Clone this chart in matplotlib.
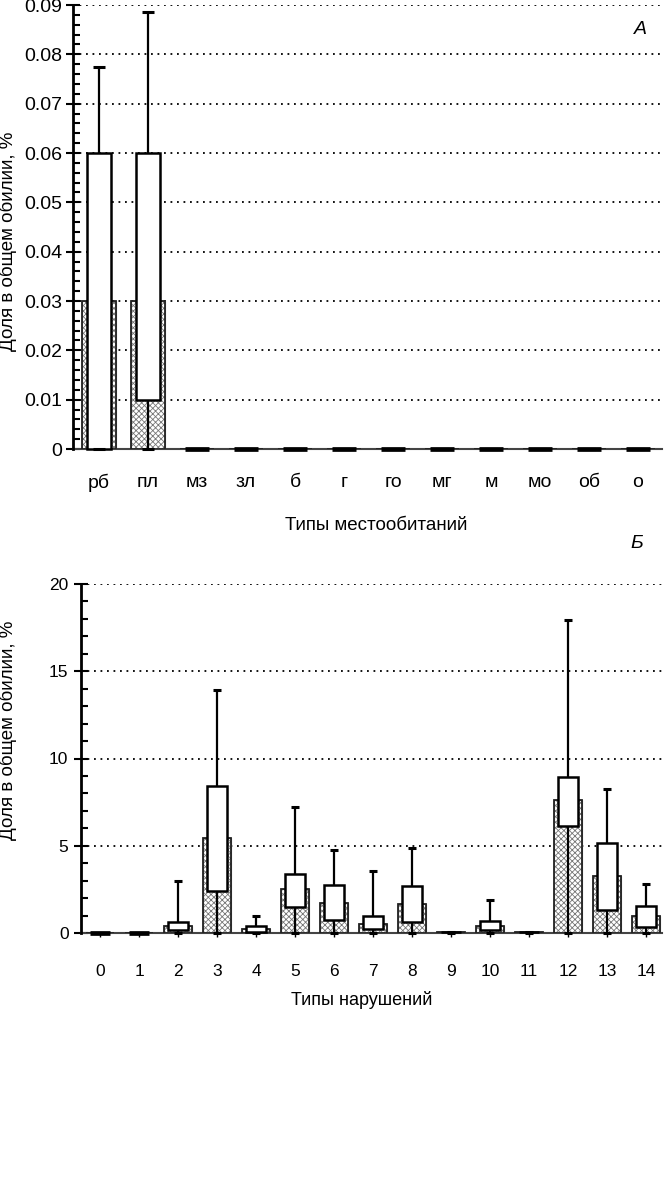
import numpy as np
import matplotlib
matplotlib.use('Agg')
import matplotlib.pyplot as plt
from matplotlib.ticker import MultipleLocator, AutoMinorLocator, FuncFormatter

plt.rcParams['font.family'] = ['Liberation Sans', 'DejaVu Sans']
plt.rcParams['hatch.linewidth'] = 0.6

# panel A: habitat types
habitats = ['рб', 'пл', 'мз', 'зл', 'б', 'г', 'го', 'мг', 'м', 'мо', 'об', 'о']
a_mean = [0.03, 0.03, 0, 0, 0, 0, 0, 0, 0, 0, 0, 0]
a_q1 = [0.0, 0.01, 0, 0, 0, 0, 0, 0, 0, 0, 0, 0]
a_q3 = [0.06, 0.06, 0, 0, 0, 0, 0, 0, 0, 0, 0, 0]
a_max = [0.0775, 0.0885, 0, 0, 0, 0, 0, 0, 0, 0, 0, 0]
a_min = [0, 0, 0, 0, 0, 0, 0, 0, 0, 0, 0, 0]

# panel B: disturbance types
disturb = [str(i) for i in range(15)]
b_mean = [0, 0, 0.40, 5.45, 0.23, 2.50, 1.74, 0.54, 1.64, 0.03, 0.40, 0.03, 7.61, 3.27, 0.98]
b_q1 = [0, 0, 0.15, 2.39, 0.03, 1.49, 0.73, 0.23, 0.63, 0.03, 0.15, 0.03, 6.14, 1.30, 0.34]
b_q3 = [0, 0, 0.63, 8.43, 0.40, 3.40, 2.73, 0.98, 2.68, 0.03, 0.71, 0.03, 8.95, 5.16, 1.55]
b_max = [0, 0, 2.98, 13.92, 0.98, 7.23, 4.74, 3.56, 4.89, 0.03, 1.91, 0.03, 17.93, 8.26, 2.83]
b_min = [0] * 15


def draw_panel(ax, labels, mean, q1, q3, vmax, vmin, wbar, wbox, wcap):
    x = np.arange(len(labels))
    mean, q1, q3 = np.array(mean), np.array(q1), np.array(q3)
    ax.bar(x, mean, width=wbar, color='white', edgecolor='#777777',
           hatch='xxxxxx', linewidth=0.8, zorder=2)
    ax.bar(x, mean, width=wbar, fill=False, edgecolor='#222222',
           linewidth=1.3, zorder=2.5)
    ax.vlines(x, vmin, vmax, color='black', linewidth=1.6, zorder=3)
    # empty categories come out as a heavy flat bar
    lw = np.where(q3 == 0, 3.4, 1.8)
    boxes = ax.bar(x, q3 - q1, bottom=q1, width=wbox, color='white',
                   edgecolor='black', linewidth=lw, zorder=4)
    for b in boxes:
        b.set_clip_on(False)
    ax.hlines(vmax, x - wcap / 2, x + wcap / 2, color='black',
              linewidth=2.2, zorder=5, clip_on=False)
    ax.hlines(vmin, x - wcap / 2, x + wcap / 2, color='black',
              linewidth=2.2, zorder=5, clip_on=False)
    ax.set_xticks(x)
    ax.set_xticklabels(labels)
    ax.set_axisbelow(True)
    ax.yaxis.grid(True, which='major', color='black',
                  linestyle=(0, (1, 2.6)), linewidth=1.3)
    for s in ['top', 'right']:
        ax.spines[s].set_visible(False)
    ax.spines['left'].set_linewidth(2)
    ax.spines['left'].set_zorder(6)
    ax.spines['bottom'].set_color('#444444')
    ax.spines['bottom'].set_linewidth(1.5)
    ax.spines['bottom'].set_zorder(1.5)
    ax.tick_params(axis='y', which='major', direction='inout', length=10,
                   width=1.5)
    ax.tick_params(axis='y', which='minor', direction='in', length=5,
                   width=1.5)
    ax.yaxis.set_minor_locator(AutoMinorLocator(5))


fig = plt.figure(figsize=(6.68, 11.89), dpi=100)

# top panel
ax1 = fig.add_axes([73 / 668, 1 - 449 / 1189, 589 / 668, 444 / 1189])
draw_panel(ax1, habitats, a_mean, a_q1, a_q3, a_max, a_min, 0.69, 0.49, 0.245)
ax1.set_xlim(-0.53, 11.49)
ax1.set_ylim(0, 0.09)
ax1.yaxis.set_major_locator(MultipleLocator(0.01))
ax1.yaxis.set_major_formatter(FuncFormatter(lambda v, p: '{:g}'.format(round(v, 3))))
ax1.tick_params(axis='x', length=0, pad=18, labelsize=14)
ax1.tick_params(axis='y', labelsize=14, pad=3)
for lab in ax1.get_yticklabels():
    lab.set_clip_on(False)

# bottom panel
ax2 = fig.add_axes([81 / 668, 1 - 933 / 1189, 581 / 668, 349 / 1189])
draw_panel(ax2, disturb, b_mean, b_q1, b_q3, b_max, b_min, 0.72, 0.51, 0.2)
ax2.set_xlim(-0.49, 14.41)
ax2.set_ylim(0, 20)
ax2.yaxis.set_major_locator(MultipleLocator(5))
ax2.tick_params(axis='x', direction='out', length=3, width=1, pad=19,
                labelsize=12.5)
ax2.tick_params(axis='y', labelsize=12.5, pad=4)

fig.text(8 / 668, 1 - 241 / 1189, 'Доля в общем обилии, %', rotation=90,
         ha='center', va='center', fontsize=13.5)
fig.text(8 / 668, 1 - 730 / 1189, 'Доля в общем обилии, %', rotation=90,
         ha='center', va='center', fontsize=13.5)
fig.text(376 / 668, 1 - 526 / 1189, 'Типы местообитаний', ha='center',
         va='center', fontsize=13.5)
fig.text(362 / 668, 1 - 1000 / 1189, 'Типы нарушений', ha='center',
         va='center', fontsize=13)
fig.text(640 / 668, 1 - 30 / 1189, 'А', ha='center', va='center',
         fontsize=14, style='italic')
fig.text(637 / 668, 1 - 543 / 1189, 'Б', ha='center', va='center',
         fontsize=14, style='italic')

fig.savefig('out.png', dpi=100)
